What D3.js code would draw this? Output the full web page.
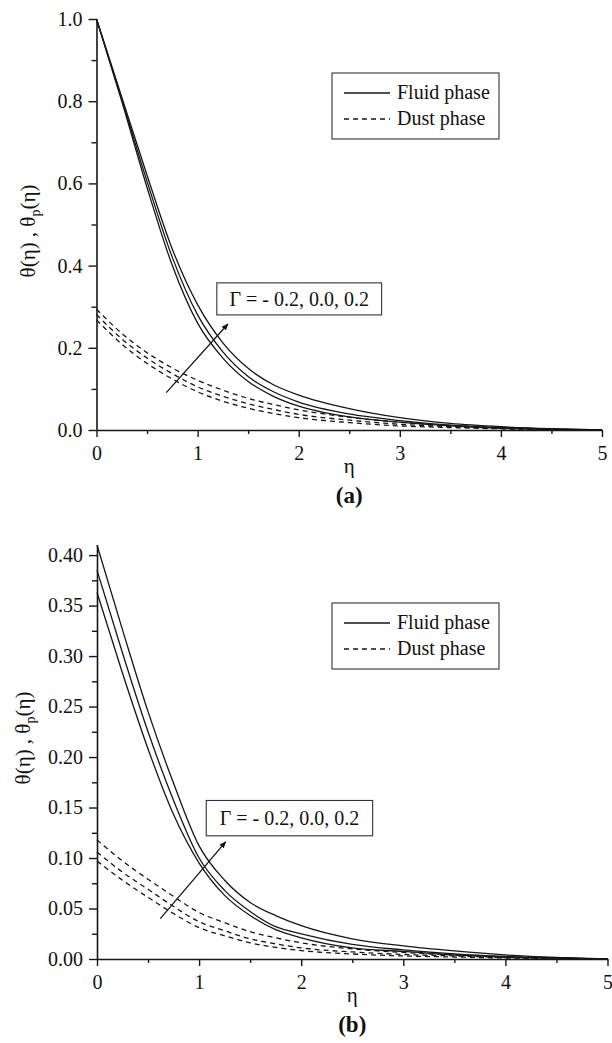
<!DOCTYPE html>
<html>
<head>
<meta charset="utf-8">
<script src="https://cdn.jsdelivr.net/npm/d3@7"></script>
<style>
  body { margin: 0; background: #fff; }
  svg { display: block; }
  text { font-family: "Liberation Serif", "Times New Roman", serif; fill: #111; }
</style>
</head>
<body>
<svg id="chart" width="612" height="1043"></svg>
<script>
// Similarity variable η at which the profiles are sampled
const eta = [0, 0.25, 0.5, 0.75, 1, 1.25, 1.5, 1.75, 2, 2.5, 3, 3.5, 4, 4.5, 5];

// (a) temperature profiles, Γ = -0.2, 0.0, 0.2
const fluidA_gm02 = [1.0, 0.80, 0.59, 0.40, 0.26, 0.175, 0.118, 0.082, 0.058, 0.032, 0.019, 0.010, 0.004, 0.0015, 0];
const fluidA_g00  = [1.0, 0.805, 0.605, 0.42, 0.28, 0.19, 0.13, 0.093, 0.068, 0.039, 0.023, 0.012, 0.006, 0.002, 0];
const fluidA_gp02 = [1.0, 0.81, 0.62, 0.44, 0.305, 0.212, 0.15, 0.11, 0.085, 0.052, 0.030, 0.016, 0.008, 0.003, 0];
const dustA_gm02  = [0.268, 0.209, 0.162, 0.124, 0.093, 0.070, 0.053, 0.040, 0.030, 0.018, 0.010, 0.006, 0.003, 0.001, 0];
const dustA_g00   = [0.281, 0.222, 0.175, 0.137, 0.105, 0.082, 0.064, 0.050, 0.038, 0.024, 0.014, 0.008, 0.004, 0.0015, 0];
const dustA_gp02  = [0.294, 0.235, 0.188, 0.151, 0.121, 0.097, 0.077, 0.062, 0.049, 0.031, 0.019, 0.011, 0.006, 0.002, 0];

// (b) temperature profiles, Γ = -0.2, 0.0, 0.2
const fluidB_gm02 = [0.363, 0.283, 0.208, 0.143, 0.095, 0.063, 0.043, 0.029, 0.021, 0.011, 0.0075, 0.004, 0.002, 0.001, 0];
const fluidB_g00  = [0.385, 0.303, 0.225, 0.157, 0.100, 0.068, 0.047, 0.032, 0.025, 0.0145, 0.009, 0.005, 0.0025, 0.001, 0];
const fluidB_gp02 = [0.41, 0.326, 0.245, 0.174, 0.112, 0.078, 0.056, 0.043, 0.033, 0.020, 0.013, 0.008, 0.004, 0.0015, 0];
const dustB_gm02  = [0.097, 0.078, 0.061, 0.045, 0.031, 0.023, 0.016, 0.0115, 0.0083, 0.005, 0.003, 0.002, 0.001, 0.0005, 0];
const dustB_g00   = [0.106, 0.086, 0.069, 0.052, 0.037, 0.028, 0.020, 0.015, 0.011, 0.007, 0.0045, 0.003, 0.0015, 0.0007, 0];
const dustB_gp02  = [0.118, 0.097, 0.079, 0.062, 0.046, 0.036, 0.027, 0.021, 0.016, 0.010, 0.0065, 0.004, 0.002, 0.001, 0];

// Axis ticks
const xMajor = [0, 1, 2, 3, 4, 5];
const xMinor = [0.5, 1.5, 2.5, 3.5, 4.5];
const yMajorA = [0, 0.2, 0.4, 0.6, 0.8, 1.0];
const yMinorA = [0.1, 0.3, 0.5, 0.7, 0.9];
const yMajorB = [0, 0.05, 0.10, 0.15, 0.20, 0.25, 0.30, 0.35, 0.40];
const yMinorB = [0.025, 0.075, 0.125, 0.175, 0.225, 0.275, 0.325, 0.375];

// Parameter annotation: label text, box corners and arrow ends in data units
const gammaText = "Γ = - 0.2, 0.0, 0.2";
const annotA = { box: [1.19, 0.358, 2.82, 0.280], arrow: [0.69, 0.091, 1.30, 0.258] };
const annotB = { box: [1.07, 0.157, 2.70, 0.122], arrow: [0.62, 0.040, 1.26, 0.116] };

const svg = d3.select("#chart");
svg.append("rect").attr("width", 612).attr("height", 1043).attr("fill", "#fff");

const defs = svg.append("defs");
defs.append("marker")
  .attr("id", "arrowhead")
  .attr("viewBox", "0 0 10 10")
  .attr("refX", 9).attr("refY", 5)
  .attr("markerWidth", 7).attr("markerHeight", 7)
  .attr("markerUnits", "userSpaceOnUse")
  .attr("orient", "auto")
  .append("path").attr("d", "M0,1 L10,5 L0,9 Z").attr("fill", "#111");

const INK = "#161616";

function drawPanel(p) {
  const g = svg.append("g");
  const x = d3.scaleLinear().domain([0, 5]).range([p.x0, p.x1]);
  const y = d3.scaleLinear().domain([0, p.yMax]).range([p.yBottom, p.yTop]);

  const line = d3.line()
    .x((d, i) => x(eta[i]))
    .y(d => y(d))
    .curve(d3.curveMonotoneX);

  // Curves
  p.fluid.forEach(s => {
    g.append("path").attr("d", line(s))
      .attr("fill", "none").attr("stroke", INK).attr("stroke-width", 1.3);
  });
  p.dust.forEach(s => {
    g.append("path").attr("d", line(s))
      .attr("fill", "none").attr("stroke", INK).attr("stroke-width", 1.3)
      .attr("stroke-dasharray", "5,4");
  });

  // Axes
  const styleAxis = sel => {
    sel.selectAll("path.domain").attr("stroke", INK).attr("stroke-width", 1.6);
    sel.selectAll(".tick line").attr("stroke", INK).attr("stroke-width", 1.4);
    sel.selectAll(".tick text").style("font-family", '"Liberation Serif", serif')
      .style("font-size", "20px").attr("fill", "#111");
  };

  g.append("g").attr("transform", `translate(0,${p.yBottom})`)
    .call(d3.axisBottom(x).tickValues(xMinor).tickSize(4).tickFormat(""))
    .call(s => s.select("path.domain").remove())
    .call(styleAxis);
  g.append("g").attr("transform", `translate(${p.x0},0)`)
    .call(d3.axisLeft(y).tickValues(p.yMinor).tickSize(5).tickFormat(""))
    .call(s => s.select("path.domain").remove())
    .call(styleAxis);
  g.append("g").attr("transform", `translate(0,${p.yBottom})`)
    .call(d3.axisBottom(x).tickValues(xMajor).tickSize(7).tickSizeOuter(0).tickPadding(9).tickFormat(d3.format("d")))
    .call(styleAxis);
  g.append("g").attr("transform", `translate(${p.x0},0)`)
    .call(d3.axisLeft(y).tickValues(p.yMajor).tickSize(8).tickSizeOuter(0).tickPadding(6).tickFormat(p.fmt))
    .call(styleAxis);

  // Axis titles
  g.append("text")
    .attr("x", (p.x0 + p.x1) / 2).attr("y", p.yBottom + 43)
    .attr("text-anchor", "middle").style("font-size", "21px").text("η");

  const yl = g.append("text")
    .attr("transform", `translate(${p.yLabelX},${p.yLabelY}) rotate(-90)`)
    .attr("text-anchor", "middle").style("font-size", "21px");
  yl.append("tspan").text("θ(η) , θ");
  yl.append("tspan").attr("dy", 5).style("font-size", "14px").text("p");
  yl.append("tspan").attr("dy", -5).text("(η)");

  g.append("text")
    .attr("x", (p.x0 + p.x1) / 2).attr("y", p.yBottom + 73)
    .attr("text-anchor", "middle").style("font-size", "23px").style("font-weight", "bold")
    .text(p.tag);

  // Legend
  const lg = g.append("g").attr("transform", `translate(${p.legend[0]},${p.legend[1]})`);
  lg.append("rect").attr("width", 167).attr("height", 66)
    .attr("fill", "#fff").attr("stroke", "#333").attr("stroke-width", 1.1);
  lg.append("line").attr("x1", 12).attr("x2", 58).attr("y1", 20).attr("y2", 20)
    .attr("stroke", INK).attr("stroke-width", 1.3);
  lg.append("line").attr("x1", 12).attr("x2", 58).attr("y1", 46).attr("y2", 46)
    .attr("stroke", INK).attr("stroke-width", 1.3).attr("stroke-dasharray", "5,4");
  lg.append("text").attr("x", 65).attr("y", 26).style("font-size", "20px").text("Fluid phase");
  lg.append("text").attr("x", 65).attr("y", 52).style("font-size", "20px").text("Dust phase");

  // Γ annotation box and arrow
  const b = p.annot.box;
  const bx = x(b[0]), by = y(b[1]), bw = x(b[2]) - x(b[0]), bh = y(b[3]) - y(b[1]);
  g.append("rect").attr("x", bx).attr("y", by).attr("width", bw).attr("height", bh)
    .attr("fill", "#fff").attr("stroke", "#333").attr("stroke-width", 1.1);
  g.append("text").attr("x", bx + bw / 2).attr("y", by + bh / 2 + 7)
    .attr("text-anchor", "middle").style("font-size", "20px").text(gammaText);
  const a = p.annot.arrow;
  g.append("line")
    .attr("x1", x(a[0])).attr("y1", y(a[1])).attr("x2", x(a[2])).attr("y2", y(a[3]))
    .attr("stroke", INK).attr("stroke-width", 1.3).attr("marker-end", "url(#arrowhead)");
}

drawPanel({
  x0: 96.5, x1: 602, yTop: 19, yBottom: 430, yMax: 1.0,
  yMajor: yMajorA, yMinor: yMinorA, fmt: d3.format(".1f"),
  fluid: [fluidA_gm02, fluidA_g00, fluidA_gp02],
  dust: [dustA_gm02, dustA_g00, dustA_gp02],
  yLabelX: 35, yLabelY: 231, tag: "(a)",
  legend: [332, 73], annot: annotA
});

drawPanel({
  x0: 97, x1: 607.5, yTop: 545, yBottom: 959, yMax: 0.41,
  yMajor: yMajorB, yMinor: yMinorB, fmt: d3.format(".2f"),
  fluid: [fluidB_gm02, fluidB_g00, fluidB_gp02],
  dust: [dustB_gm02, dustB_g00, dustB_gp02],
  yLabelX: 30, yLabelY: 738, tag: "(b)",
  legend: [332, 603], annot: annotB
});
</script>
</body>
</html>
